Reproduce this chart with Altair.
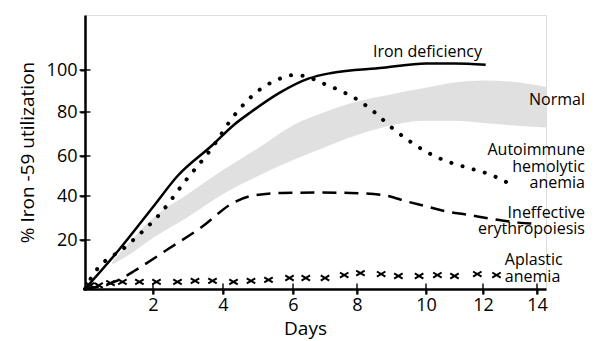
import altair as alt
import pandas as pd

# ---- data ----
iron_x = [0, 1.0, 2.0, 2.7, 3.7, 4.3, 4.8, 5.6, 6.5, 7.2, 8.75, 10.0, 11.0, 12.1]
iron_y = [0, 16, 35, 50, 65, 74, 80, 89, 96, 98.6, 101, 103, 103, 102.4]

auto_x = [0, 0.2, 1.26, 2.26, 2.9, 3.7, 4.3, 5.0, 5.5, 6.0, 6.4, 6.8, 7.5, 8.0, 8.5, 9.0, 9.5, 10.0, 10.8, 11.5, 12.4, 13.0]
auto_y = [0, 5, 18, 33, 47, 64, 78, 90, 95, 97.5, 97, 94.5, 90, 86, 80, 73, 67, 62, 57, 54, 50, 46]

normal_x = [0.8, 1.3, 2, 3, 4, 5, 6, 7, 8, 9, 10, 11, 12, 13, 14.3]
normal_lo = [10, 14, 21, 30.5, 41, 50, 58, 64, 69.5, 74, 76, 76, 75, 74, 73]
normal_hi = [11, 19, 30, 41, 53, 63.5, 74, 80, 85, 88.5, 91.5, 94, 95, 94.5, 92]

ineff_x = [0, 1.0, 1.5, 2.4, 3.4, 4.3, 4.8, 5.7, 6.75, 7.8, 8.75, 9.5, 10.1, 10.5, 11.5, 12.6, 13.3, 13.9]
ineff_y = [0, 3.7, 7.8, 16, 26, 37, 40, 41.5, 41.7, 41.5, 40.5, 37.3, 35, 33.6, 31.4, 29.1, 27.9, 27.5]

aplastic_x = [0.15, 0.4, 0.75, 1.1, 1.6, 2.1, 2.7, 3.2, 3.7, 4.3, 4.8, 5.3, 5.9, 6.4, 7.0, 7.6, 8.1, 8.7, 9.2, 9.8, 10.4, 11.0, 11.8, 12.5]
aplastic_y = [1.5, 1.5, 2.4, 2.9, 2.9, 2.9, 2.9, 3.3, 3.3, 2.9, 3.3, 3.7, 4.5, 4.5, 4.5, 5.7, 6.5, 6.1, 5.3, 5.3, 5.7, 5.3, 6.1, 5.7]

x_ticks = [2, 4, 6, 8, 10, 12, 14]
y_ticks = [20, 40, 60, 80, 100]

top_label = ["Iron deficiency"]
top_label_x = [10.05]
top_label_y = [108]
right_labels = ["Normal", "Autoimmune\nhemolytic\nanemia", "Ineffective\nerythropoiesis"]
right_labels_x = [15.6, 15.6, 15.6]
right_labels_y = [85.5, 62.7, 32.3]
aplastic_label = ["Aplastic\nanemia"]
aplastic_label_x = [12.81]
aplastic_label_y = [11.8]

FONT = "Open Sans"

xscale = alt.Scale(domain=[0, 2, 4, 6, 8, 10, 12, 14, 14.3],
                   range=[0, 68, 138, 208, 272, 341, 398, 452, 461], nice=False, zero=False)
yscale = alt.Scale(domain=[0, 20, 40, 60, 80, 100, 125],
                   range=[274, 225, 181, 141, 97, 55, 0], nice=False, zero=False)

X = lambda: alt.X("x:Q", scale=xscale, axis=alt.Axis(
    values=x_ticks, title="Days", titleX=220, titlePadding=5, grid=False,
    labelFontSize=18, titleFontSize=19, labelFont=FONT, titleFont=FONT,
    titleFontWeight="normal", labelColor="black", titleColor="black",
    domainColor="black", domainWidth=2.5, tickColor="black", tickWidth=2,
    tickSize=5, labelPadding=2))
Y = lambda: alt.Y("y:Q", scale=yscale, axis=alt.Axis(
    values=y_ticks, title="% Iron -59 utilization", titlePadding=9, grid=False,
    labelFontSize=18, titleFontSize=19, labelFont=FONT, titleFont=FONT,
    titleFontWeight="normal", labelColor="black", titleColor="black",
    domainColor="black", domainWidth=2.5, tickColor="black", tickWidth=2,
    tickSize=5, labelPadding=3))

band_df = pd.DataFrame({"x": normal_x, "y": normal_lo, "y2": normal_hi})
band = alt.Chart(band_df).mark_area(color="#e0e0e0", opacity=1, interpolate="monotone").encode(
    x=X(), y=Y(), y2="y2:Q")

iron = alt.Chart(pd.DataFrame({"x": iron_x, "y": iron_y})).mark_line(
    color="black", strokeWidth=2.5, interpolate="monotone").encode(x=X(), y=Y())

auto = alt.Chart(pd.DataFrame({"x": auto_x, "y": auto_y})).mark_line(
    color="black", strokeWidth=4, strokeDash=[0.1, 11.5], strokeCap="round",
    interpolate="monotone").encode(x=X(), y=Y())

ineff = alt.Chart(pd.DataFrame({"x": ineff_x, "y": ineff_y})).mark_line(
    color="black", strokeWidth=2.5, strokeDash=[14, 8], interpolate="monotone").encode(x=X(), y=Y())

aplastic = alt.Chart(pd.DataFrame({"x": aplastic_x, "y": aplastic_y})).mark_point(
    shape="M-1,-0.6L1,0.6M-1,0.6L1,-0.6M-0.5,0L0.5,0", size=72, filled=False,
    color="black", strokeWidth=2, opacity=1).encode(x=X(), y=Y())

xt = alt.Chart(pd.DataFrame({"x": x_ticks, "y": [0] * len(x_ticks)})).mark_tick(
    orient="vertical", size=11, thickness=2, color="black").encode(x=X(), y=Y())
yt = alt.Chart(pd.DataFrame({"x": [0] * len(y_ticks), "y": y_ticks})).mark_tick(
    orient="horizontal", size=11, thickness=2, color="black").encode(x=X(), y=Y())

def text_layer(xs, ys, ts, align):
    return alt.Chart(pd.DataFrame({"x": xs, "y": ys, "t": ts})).mark_text(
        font=FONT, fontSize=16, color="black", lineBreak="\n", lineHeight=16.5,
        baseline="middle", align=align).encode(x=X(), y=Y(), text="t:N")

t1 = text_layer(top_label_x, top_label_y, top_label, "center")
t2 = text_layer(right_labels_x, right_labels_y, right_labels, "right")
t3 = text_layer(aplastic_label_x, aplastic_label_y, aplastic_label, "left")

chart = alt.layer(band, iron, auto, ineff, aplastic, xt, yt, t1, t2, t3).properties(
    width=461, height=274,
    autosize=alt.AutoSizeParams(type="none"),
    padding={"left": 77, "top": 7, "right": 40, "bottom": 52},
).configure_view(stroke=None).configure(background="white")

chart.save("out.html", embed_options={"renderer": "svg", "actions": False})
